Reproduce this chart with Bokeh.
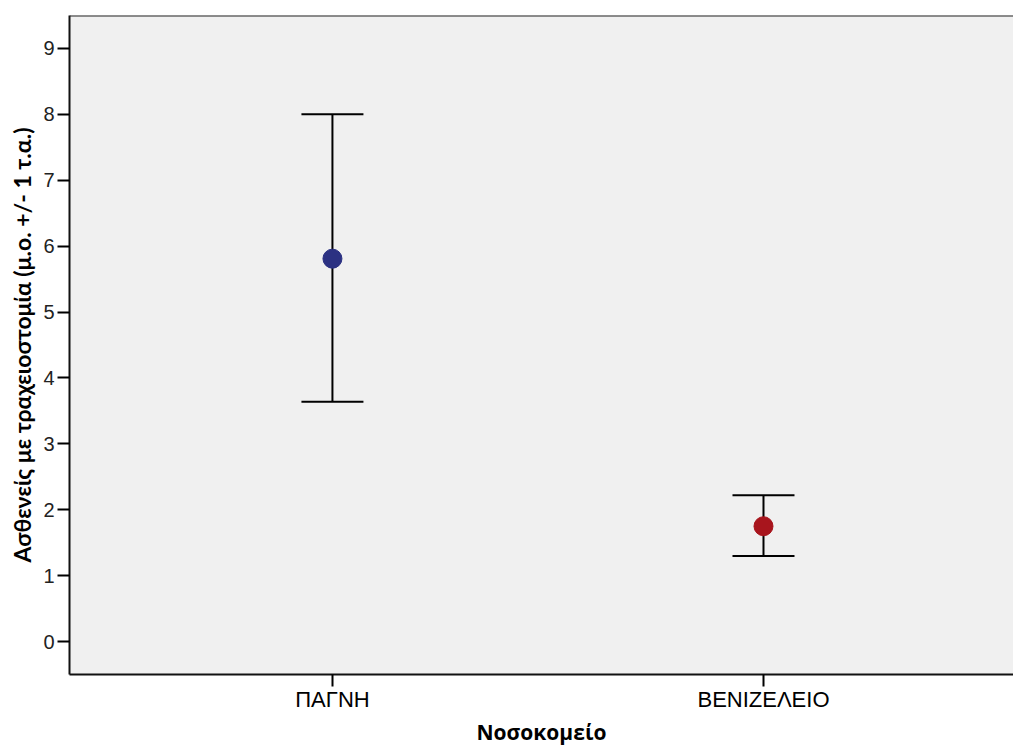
from bokeh.plotting import figure
from bokeh.models import ColumnDataSource, Whisker, TeeHead, Range1d, FixedTicker, Span
from bokeh.embed import file_html
from bokeh.resources import INLINE

hospitals = ["ΠΑΓΝΗ", "ΒΕΝΙΖΕΛΕΙΟ"]
means = [5.81, 1.75]
upper = [8.0, 2.22]
lower = [3.64, 1.30]
colors = ["#2B3182", "#A8151D"]
y_ticks = [0, 1, 2, 3, 4, 5, 6, 7, 8, 9]

xs = list(range(len(hospitals)))
src = ColumnDataSource(dict(x=xs, mean=means, upper=upper, lower=lower, color=colors))

p = figure(width=1013, height=749, output_backend="svg", toolbar_location=None,
           x_range=Range1d(-0.610, 1.580), y_range=Range1d(-0.5, 9.5),
           min_border_left=69, min_border_top=15, min_border_bottom=75, min_border_right=0)

p.background_fill_color = "#F0F0F0"
p.border_fill_color = "white"
p.outline_line_color = None
p.grid.visible = False

p.add_layout(Span(location=9.5, dimension="width", line_color="#222222", line_width=2))

w = Whisker(source=src, base="x", upper="upper", lower="lower", dimension="height",
            line_color="black", line_width=2,
            upper_head=TeeHead(size=62, line_color="black", line_width=2),
            lower_head=TeeHead(size=62, line_color="black", line_width=2))
p.add_layout(w)

p.scatter("x", "mean", source=src, size=19, fill_color="color", line_color="color")

# x axis
p.xaxis.ticker = FixedTicker(ticks=xs)
p.xaxis.major_label_overrides = {i: h for i, h in enumerate(hospitals)}
p.xaxis.minor_tick_line_color = None
p.xaxis.major_tick_out = 12
p.xaxis.major_tick_in = 0
p.xaxis.major_tick_line_width = 2
p.xaxis.axis_line_width = 2
p.xaxis.axis_line_color = "#111111"
p.xaxis.major_label_text_font = "Liberation Sans"
p.xaxis.major_label_text_font_size = "22px"
p.xaxis.major_label_text_color = "black"
p.xaxis.major_label_standoff = 0
p.xaxis.axis_label = "Νοσοκομείο"
p.xaxis.axis_label_text_font = "Open Sans"
p.xaxis.axis_label_text_font_style = "bold"
p.xaxis.axis_label_text_font_size = "21px"
p.xaxis.axis_label_text_color = "black"
p.xaxis.axis_label_standoff = 3

# y axis
p.yaxis.ticker = FixedTicker(ticks=y_ticks)
p.yaxis.minor_tick_line_color = None
p.yaxis.major_tick_out = 12
p.yaxis.major_tick_in = 0
p.yaxis.major_tick_line_width = 2
p.yaxis.axis_line_width = 2
p.yaxis.axis_line_color = "#111111"
p.yaxis.major_label_text_font = "Liberation Sans"
p.yaxis.major_label_text_font_size = "20px"
p.yaxis.major_label_text_color = "#222222"
p.yaxis.major_label_standoff = 3
p.yaxis.axis_label = "Ασθενείς με τραχειοστομία (μ.ο. +/- 1 τ.α.)"
p.yaxis.axis_label_text_font = "Lato"
p.yaxis.axis_label_text_font_style = "bold"
p.yaxis.axis_label_text_font_size = "23px"
p.yaxis.axis_label_text_color = "black"
p.yaxis.axis_label_standoff = 4

open("out.html", "w").write(file_html(p, INLINE))
